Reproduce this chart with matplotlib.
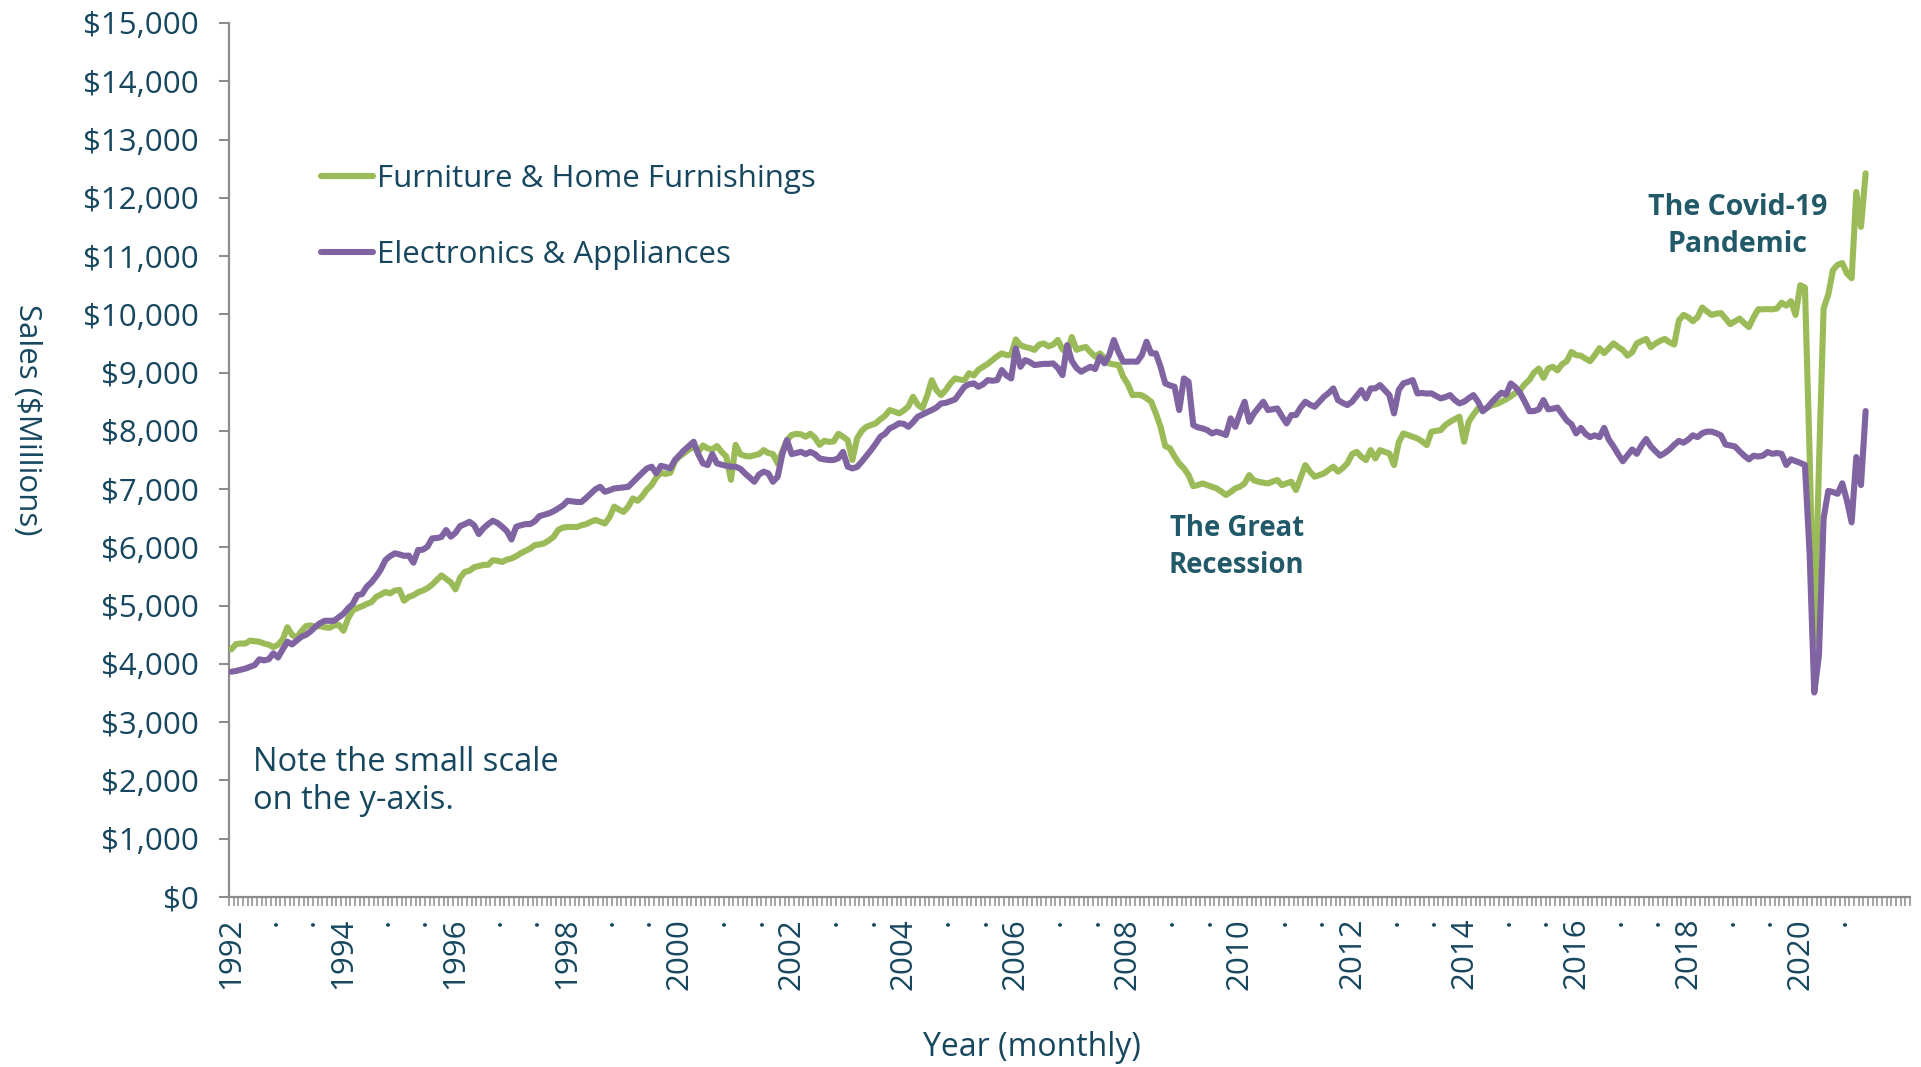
import numpy as np
import matplotlib
matplotlib.use("Agg")
import matplotlib.pyplot as plt
from matplotlib.ticker import FuncFormatter, FixedLocator

plt.rcParams['font.family'] = ['Open Sans', 'DejaVu Sans']

# Monthly sales ($ millions), Jan 1992 - Mar 2021, one row per year
furniture = [
    4250, 4340, 4350, 4350, 4400, 4390, 4380, 4350, 4330, 4290, 4330, 4420,  # 1992
    4630, 4500, 4450, 4560, 4650, 4660, 4640, 4650, 4630, 4620, 4660, 4670,  # 1993
    4570, 4780, 4920, 4960, 4990, 5030, 5060, 5150, 5190, 5235, 5210, 5260,  # 1994
    5270, 5085, 5150, 5180, 5230, 5260, 5300, 5360, 5440, 5520, 5460, 5400,  # 1995
    5280, 5480, 5580, 5600, 5660, 5680, 5700, 5700, 5780, 5770, 5750, 5790,  # 1996
    5810, 5850, 5900, 5940, 5980, 6040, 6050, 6070, 6120, 6180, 6300, 6340,  # 1997
    6350, 6350, 6350, 6380, 6400, 6440, 6470, 6440, 6410, 6520, 6700, 6650,  # 1998
    6610, 6700, 6840, 6800, 6880, 6990, 7070, 7200, 7280, 7260, 7280, 7480,  # 1999
    7560, 7620, 7680, 7720, 7640, 7750, 7700, 7680, 7740, 7640, 7560, 7160,  # 2000
    7760, 7600, 7570, 7560, 7580, 7600, 7670, 7620, 7600, 7440, 7650, 7840,  # 2001
    7930, 7950, 7940, 7900, 7950, 7880, 7760, 7830, 7810, 7820, 7950, 7900,  # 2002
    7840, 7500, 7870, 8000, 8070, 8100, 8130, 8200, 8260, 8357, 8330, 8300,  # 2003
    8350, 8420, 8585, 8450, 8390, 8600, 8870, 8700, 8614, 8700, 8815, 8900,  # 2004
    8880, 8870, 8990, 8950, 9050, 9100, 9150, 9215, 9280, 9330, 9300, 9300,  # 2005
    9570, 9470, 9440, 9420, 9390, 9480, 9500, 9450, 9480, 9560, 9400, 9340,  # 2006
    9610, 9390, 9420, 9440, 9350, 9272, 9330, 9250, 9158, 9140, 9130, 8930,  # 2007
    8800, 8614, 8620, 8610, 8560, 8500, 8300, 8070, 7740, 7700, 7560, 7440,  # 2008
    7356, 7240, 7050, 7070, 7098, 7070, 7041, 7012, 6960, 6900, 6950, 7012,  # 2009
    7041, 7100, 7241, 7150, 7127, 7110, 7098, 7130, 7156, 7070, 7100, 7127,  # 2010
    6984, 7200, 7413, 7300, 7213, 7240, 7270, 7330, 7385, 7300, 7360, 7442,  # 2011
    7600, 7640, 7556, 7499, 7670, 7527, 7670, 7640, 7613, 7413, 7800, 7956,  # 2012
    7928, 7900, 7870, 7820, 7756, 7985, 8000, 8013, 8100, 8157, 8200, 8243,  # 2013
    7813, 8157, 8280, 8385, 8370, 8400, 8440, 8460, 8500, 8540, 8592, 8650,  # 2014
    8700, 8800, 8878, 9000, 9069, 8910, 9069, 9100, 9038, 9145, 9196, 9355,  # 2015
    9300, 9291, 9240, 9196, 9300, 9418, 9336, 9420, 9502, 9440, 9387, 9291,  # 2016
    9350, 9502, 9540, 9578, 9437, 9500, 9546, 9578, 9520, 9482, 9895, 9990,  # 2017
    9950, 9882, 9950, 10117, 10050, 9990, 10010, 10022, 9930, 9832, 9880, 9927,  # 2018
    9850, 9781, 9950, 10086, 10086, 10090, 10086, 10100, 10200, 10150, 10226, 9990,  # 2019
    10500, 10460, 7600, 4350, 7400, 10100, 10340, 10760, 10850, 10880, 10700, 10620,  # 2020
    12100, 11500, 12420,  # 2021
]

electronics = [
    3866, 3880, 3900, 3920, 3950, 3980, 4079, 4060, 4080, 4182, 4110, 4250,  # 1992
    4381, 4335, 4400, 4467, 4500, 4560, 4638, 4700, 4741, 4740, 4741, 4800,  # 1993
    4860, 4954, 5030, 5180, 5200, 5325, 5400, 5500, 5620, 5783, 5850, 5898,  # 1994
    5880, 5855, 5860, 5737, 5955, 5960, 6012, 6155, 6160, 6180, 6298, 6184,  # 1995
    6250, 6366, 6400, 6440, 6380, 6229, 6330, 6400, 6457, 6420, 6354, 6280,  # 1996
    6137, 6354, 6380, 6400, 6400, 6450, 6538, 6560, 6585, 6620, 6668, 6720,  # 1997
    6800, 6790, 6780, 6780, 6850, 6925, 7000, 7040, 6955, 6980, 7012, 7020,  # 1998
    7030, 7040, 7120, 7200, 7280, 7355, 7385, 7270, 7400, 7380, 7356, 7500,  # 1999
    7585, 7670, 7740, 7813, 7600, 7442, 7413, 7601, 7442, 7420, 7400, 7385,  # 2000
    7385, 7350, 7270, 7200, 7127, 7250, 7300, 7270, 7127, 7213, 7600, 7842,  # 2001
    7601, 7620, 7640, 7601, 7640, 7600, 7527, 7510, 7499, 7500, 7530, 7640,  # 2002
    7385, 7356, 7380, 7470, 7570, 7670, 7780, 7899, 7950, 8042, 8080, 8130,  # 2003
    8120, 8070, 8150, 8243, 8280, 8320, 8357, 8400, 8471, 8480, 8510, 8540,  # 2004
    8650, 8757, 8800, 8815, 8757, 8800, 8871, 8860, 8871, 9043, 8950, 8900,  # 2005
    9415, 9100, 9215, 9180, 9130, 9140, 9150, 9150, 9158, 9080, 8957, 9472,  # 2006
    9200, 9080, 9015, 9060, 9100, 9060, 9272, 9158, 9300, 9558, 9350, 9187,  # 2007
    9187, 9190, 9187, 9300, 9530, 9330, 9330, 9100, 8815, 8780, 8757, 8357,  # 2008
    8900, 8843, 8099, 8060, 8042, 8013, 7956, 7985, 7960, 7928, 8214, 8070,  # 2009
    8300, 8500, 8157, 8300, 8400, 8500, 8357, 8370, 8385, 8250, 8128, 8271,  # 2010
    8271, 8400, 8500, 8450, 8414, 8500, 8586, 8650, 8729, 8528, 8480, 8443,  # 2011
    8500, 8600, 8700, 8557, 8729, 8729, 8786, 8700, 8614, 8300, 8700, 8815,  # 2012
    8840, 8871, 8643, 8650, 8640, 8643, 8600, 8557, 8580, 8614, 8530, 8471,  # 2013
    8500, 8560, 8614, 8500, 8337, 8400, 8496, 8580, 8655, 8623, 8814, 8750,  # 2014
    8650, 8500, 8337, 8340, 8369, 8528, 8369, 8380, 8400, 8290, 8178, 8115,  # 2015
    7956, 8051, 7950, 7892, 7924, 7892, 8051, 7850, 7733, 7600, 7479, 7580,  # 2016
    7682, 7606, 7750, 7860, 7733, 7650, 7574, 7620, 7682, 7760, 7828, 7797,  # 2017
    7850, 7924, 7892, 7960, 7987, 7987, 7960, 7924, 7765, 7750, 7733, 7650,  # 2018
    7574, 7511, 7574, 7560, 7574, 7638, 7606, 7620, 7606, 7415, 7511, 7480,  # 2019
    7450, 7415, 5900, 3510, 4150, 6500, 6970, 6950, 6920, 7100, 6800, 6430,  # 2020
    7550, 7070, 8340,  # 2021
]

series_names = ["Furniture & Home Furnishings", "Electronics & Appliances"]
series_colors = ["#9BBB59", "#8064A2"]
first_year = 1992
n_categories = 360          # category slots on the x axis (Jan 1992 - Dec 2021)
label_every = 8             # a category label every 8 months
y_ticks = list(range(0, 15001, 1000))

TEXT = "#17475F"
ANNOT = "#215968"
GRAY = "#8C8C8C"

fig = plt.figure(figsize=(19.21, 10.67), dpi=100)
W, H = 1921, 1067
ax = fig.add_axes([229 / W, 1 - 897 / H, (1910 - 229) / W, (897 - 23) / H])

x = np.arange(len(furniture))
for vals, name, col, z in zip([furniture, electronics], series_names, series_colors, [3, 4]):
    ax.plot(x, vals, color=col, lw=4.4, solid_joinstyle="round",
            solid_capstyle="round", label=name, zorder=z)

ax.set_xlim(-0.5, n_categories - 0.5)
ax.set_ylim(0, 15000)

for s in ["top", "right"]:
    ax.spines[s].set_visible(False)
for s in ["left", "bottom"]:
    ax.spines[s].set_color(GRAY)
    ax.spines[s].set_linewidth(1.6)

ax.set_yticks(y_ticks)
ax.yaxis.set_major_formatter(FuncFormatter(lambda v, p: "${:,.0f}".format(v)))
ax.tick_params(axis="y", direction="out", length=7.5, width=1.5, color=GRAY,
               labelsize=22.5, labelcolor=TEXT, pad=14)

lab_pos = list(range(0, len(furniture) - 6, label_every))
lab_txt = []
for p in lab_pos:
    if p % 24 == 0:
        lab_txt.append(str(first_year + p // 12))
    else:
        lab_txt.append(".")
ax.set_xticks(lab_pos)
ax.set_xticklabels(lab_txt, rotation=90)
ax.xaxis.set_minor_locator(FixedLocator(np.arange(-0.5, n_categories, 1.0)))
ax.tick_params(axis="x", which="major", length=0, labelsize=22.5,
               labelcolor=TEXT, pad=15)
ax.tick_params(axis="x", which="minor", direction="out", length=6.5,
               width=1.1, color=GRAY)

leg = ax.legend(loc="upper left", bbox_to_anchor=(0.0547, 0.839), frameon=False,
                fontsize=22.5, handlelength=1.68, handletextpad=0.12,
                labelspacing=1.48, borderpad=0, borderaxespad=0)
for t in leg.get_texts():
    t.set_color(TEXT)

ax.text(215.3, 6010, "The Great\nRecession", ha="center", va="center",
        fontsize=19.8, fontweight="bold", color=ANNOT, linespacing=1.36)
ax.text(322.5, 11520, "The Covid-19\nPandemic", ha="center", va="center",
        fontsize=20.5, fontweight="bold", color=ANNOT, linespacing=1.36)
ax.text(4.7, 1985, "Note the small scale\non the y-axis.", ha="left", va="center",
        fontsize=23.5, color=TEXT, linespacing=1.2)

fig.text(27 / W, 1 - 420 / H, "Sales ($Millions)", rotation=270, ha="center",
         va="center", fontsize=22.5, color=TEXT)
fig.text(1032 / W, 1 - 1047 / H, "Year (monthly)", ha="center", va="center",
         fontsize=23, color=TEXT)

fig.savefig("out.png", dpi=100)
